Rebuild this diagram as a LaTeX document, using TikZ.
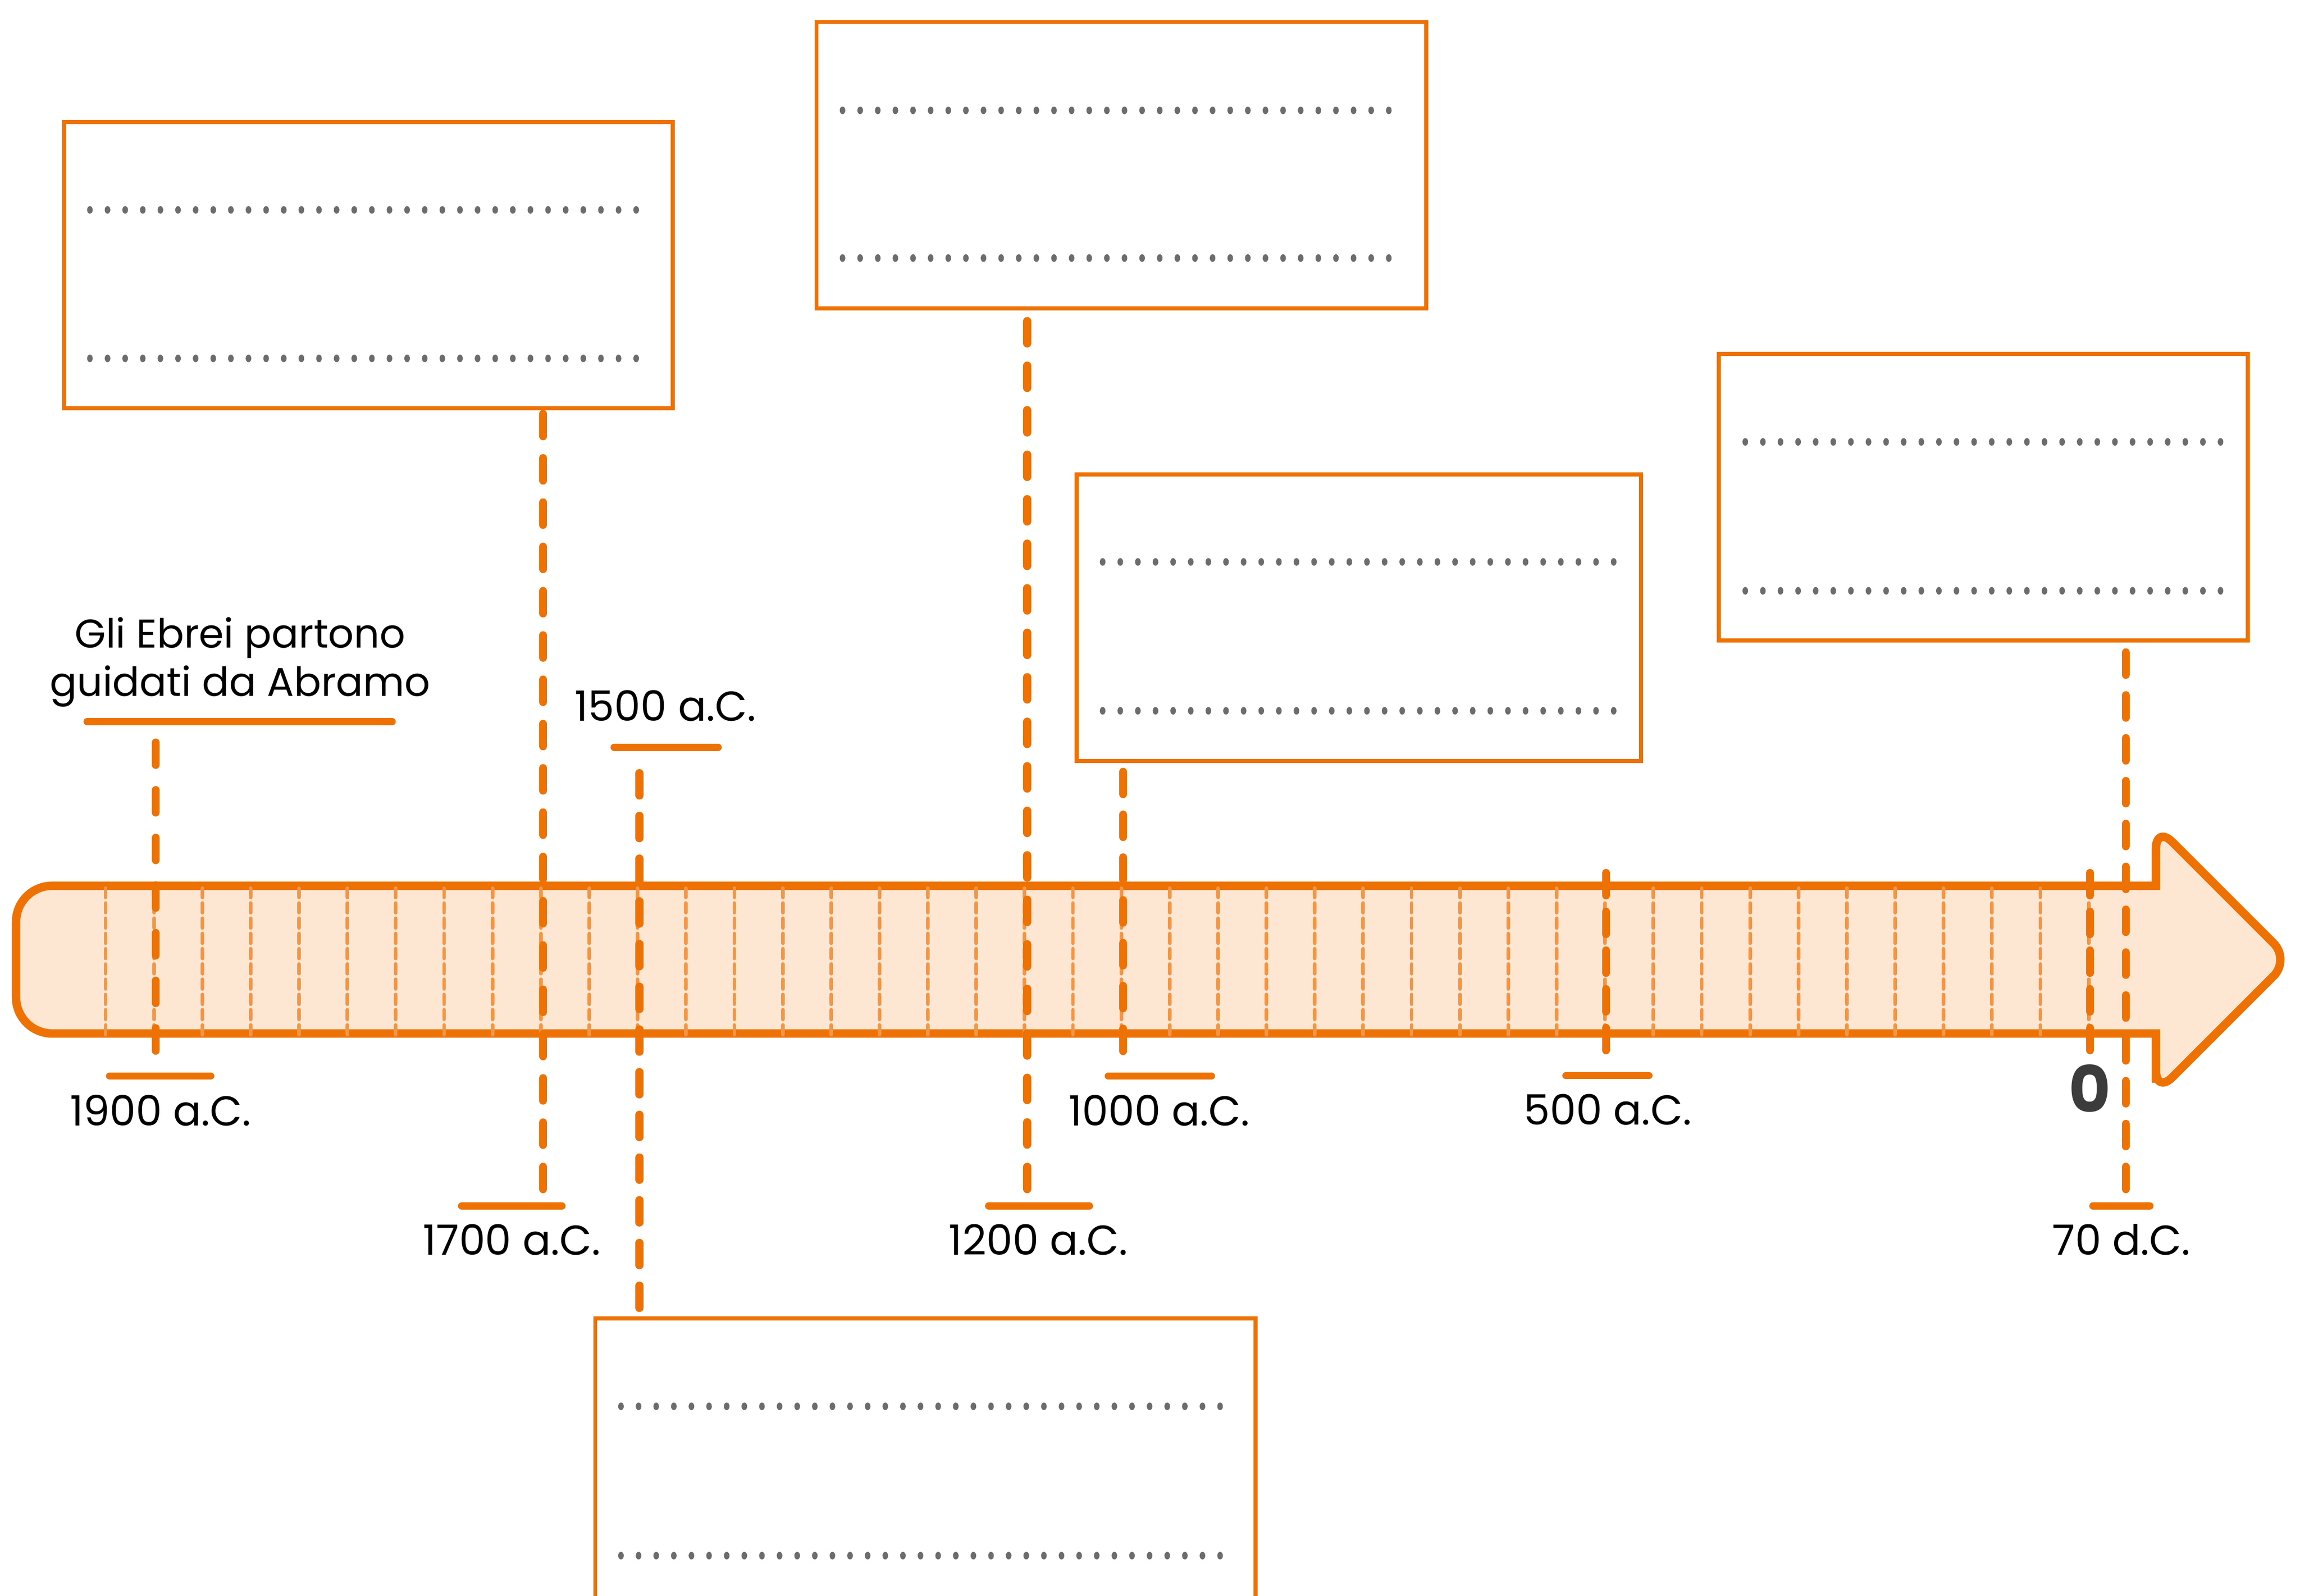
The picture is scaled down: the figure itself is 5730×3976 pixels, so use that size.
\documentclass[tikz,border=0pt]{standalone}
\usepackage{fontspec}
\setmainfont{Poppins}
\usetikzlibrary{calc}
\definecolor{tlorange}{RGB}{237,114,3}
\definecolor{tlfill}{RGB}{253,230,210}
\definecolor{tltick}{RGB}{242,150,70}
\definecolor{tldot}{RGB}{108,108,108}
\definecolor{tlzero}{RGB}{60,60,60}
\begin{document}
\begin{tikzpicture}[x=1pt,y=-1pt,
  box/.style={draw=tlorange, line width=10pt, rectangle, inner sep=0pt, outer sep=0pt},
  evline/.style={draw=tlorange, line width=20pt, line cap=round, dash pattern=on 56pt off #1pt},
  bar/.style={draw=tlorange, line width=18pt, line cap=round},
  tickline/.style={draw=tltick, line width=9pt, line cap=round, dash pattern=on 24pt off 14pt},
  lbl/.style={font=\fontsize{104}{121}\selectfont, anchor=base, inner sep=0pt, text=black},
  dotfill/.style={fill=tldot, draw=none}]
\useasboundingbox (0,0) rectangle (5730,3976);

% ---------- answer boxes ----------
\node[box, minimum width=1516pt, minimum height=713pt] (boxA) at (918,660.5) {};
\node[box, minimum width=1519pt, minimum height=713pt] (boxB) at (2793.5,411.5) {};
\node[box, minimum width=1406pt, minimum height=714pt] (boxC) at (3385,1539) {};
\node[box, minimum width=1318pt, minimum height=714pt] (boxD) at (4941,1239) {};
\node[box, minimum width=1645pt, minimum height=714pt] (boxE) at (2305.5,3642) {};

% dotted writing lines
\foreach \yy in {523,893}{\foreach \i in {0,...,31}{\fill[dotfill] ({224+43.9*\i},\yy) ellipse [x radius=7pt, y radius=9.5pt];}}
\foreach \yy in {275,643}{\foreach \i in {0,...,31}{\fill[dotfill] ({2099+43.9*\i},\yy) ellipse [x radius=7pt, y radius=9.5pt];}}
\foreach \yy in {1400,1771}{\foreach \i in {0,...,29}{\fill[dotfill] ({2747+43.9*\i},\yy) ellipse [x radius=7pt, y radius=9.5pt];}}
\foreach \yy in {1101,1472}{\foreach \i in {0,...,27}{\fill[dotfill] ({4348+43.85*\i},\yy) ellipse [x radius=7pt, y radius=9.5pt];}}
\foreach \yy in {3504,3876}{\foreach \i in {0,...,34}{\fill[dotfill] ({1547+43.9*\i},\yy) ellipse [x radius=7pt, y radius=9.5pt];}}

% ---------- timeline arrow ----------
\filldraw[fill=tlfill, draw=tlorange, line width=21pt, line join=miter]
  (5371,2140) [rounded corners=58pt] -- (5371,2057) -- (5705,2391) -- (5371,2725) -- (5371,2640)
  [sharp corners] -- (5371,2575) -- (2000,2575)
  [rounded corners=90pt] -- (40,2575) -- (40,2207) -- (2000,2207)
  [sharp corners] -- (5371,2207) -- cycle;

% scale ticks
\foreach \k in {0,...,41}{\draw[tickline] ({263+120.5*\k},2578) -- ({263+120.5*\k},2213);}

% ---------- coordinates of the event lines ----------
\coordinate (l1900b) at (388,2618);  \coordinate (l1900t) at (388,1850);
\coordinate (l1700b) at (1353,2963);
\coordinate (l1500t) at (1593,1926);
\coordinate (l1200b) at (2559,2963);
\coordinate (l1000b) at (2798,2619);
\coordinate (l500b)  at (4001,2617); \coordinate (l500t) at (4001,2175);
\coordinate (l0b)    at (5207,2617); \coordinate (l0t)   at (5207,2175);
\coordinate (l70b)   at (5296,2963);

% bars
\coordinate (b1900aL) at (217,1798);  \coordinate (b1900aR) at (977,1798);
\coordinate (b1900bL) at (273,2681);  \coordinate (b1900bR) at (525,2681);
\coordinate (b1500L) at (1530,1862);  \coordinate (b1500R) at (1789,1862);
\coordinate (b1700L) at (1150,3005);  \coordinate (b1700R) at (1400,3005);
\coordinate (b1200L) at (2463,3005);  \coordinate (b1200R) at (2714,3005);
\coordinate (b1000L) at (2761,2681);  \coordinate (b1000R) at (3018,2681);
\coordinate (b500L)  at (3901,2680);  \coordinate (b500R)  at (4108,2680);
\coordinate (b70L)   at (5214,3005);  \coordinate (b70R)   at (5356,3005);

\foreach \a/\b in {b1900aL/b1900aR,b1900bL/b1900bR,b1500L/b1500R,b1700L/b1700R,b1200L/b1200R,b1000L/b1000R,b500L/b500R,b70L/b70R}
  {\draw[bar] (\a) -- (\b);}

% dashed event lines (dash period fitted so both ends carry a dash)
\draw[evline=62.7] (l1900b) -- (l1900t);
\draw[evline=54.35] (l1700b) -- ($(boxA.south -| l1700b)+(0,14)$);
\draw[evline=50.4] ($(boxE.north -| l1500t)+(0,-26)$) -- (l1500t);
\draw[evline=54.9] (l1200b) -- ($(boxB.south -| l1200b)+(0,31)$);
\draw[evline=50.7] (l1000b) -- ($(boxC.south -| l1000b)+(0,27)$);
\draw[evline=40.5] (l500b) -- (l500t);
\draw[evline=40.5] (l0b) -- (l0t);
\draw[evline=50.8] (l70b) -- ($(boxD.south -| l70b)+(0,29)$);

% ---------- labels ----------
\node[lbl, font=\fontsize{100}{121}\selectfont] (tAbr1) at (598,1614) {Gli Ebrei partono};
\node[lbl, font=\fontsize{100}{121}\selectfont] (tAbr2) at (598,1735) {guidati da Abramo};
\node[lbl] (t1500) at (1658,1796) {1500 a.C.};
\node[lbl] (t1900) at (400,2805) {1900 a.C.};
\node[lbl] (t1000) at (2888,2805) {1000 a.C.};
\node[lbl] (t500)  at (4005,2803) {500 a.C.};
\node[lbl, font=\fontsize{160}{190}\selectfont\bfseries, text=tlzero] (t0) at (5206,2772) {0};
\node[lbl] (t1700) at (1275,3127) {1700 a.C.};
\node[lbl] (t1200) at (2587,3127) {1200 a.C.};
\node[lbl] (t70)   at (5285,3127) {70 d.C.};
\end{tikzpicture}
\end{document}
